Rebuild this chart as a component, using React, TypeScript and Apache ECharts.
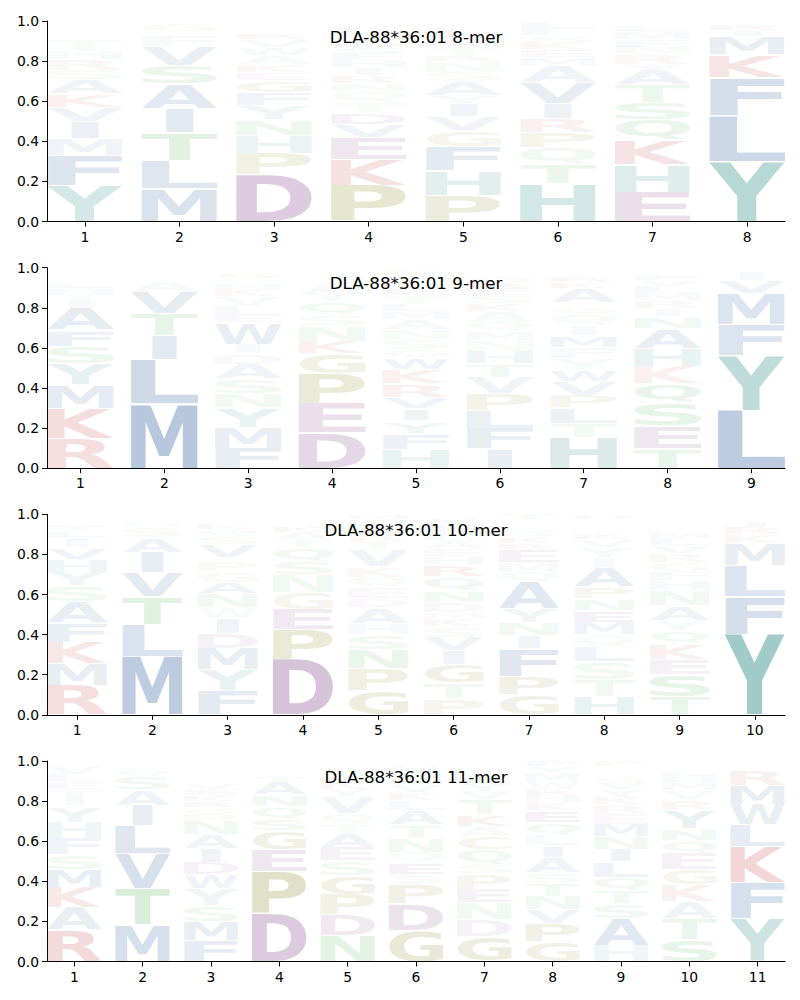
import React, { useEffect, useRef } from 'react';
import * as echarts from 'echarts';

type Stack = [string, number][];

const TITLES = ['DLA-88*36:01 8-mer', 'DLA-88*36:01 9-mer', 'DLA-88*36:01 10-mer', 'DLA-88*36:01 11-mer'];

// letter stacks per position, bottom -> top, [letter, frequency]
const MER8: Stack[] = [
  [['Y', .18], ['F', .15], ['M', .085], ['I', .085], ['V', .07], ['K', .065], ['A', .07], ['S', .05], ['R', .055], ['H', .045], ['T', .055], ['E', .025], ['W', .02], ['Q', .02], ['N', .025]],
  [['M', .163], ['L', .14], ['T', .14], ['I', .12], ['A', .125], ['S', .09], ['V', .095], ['F', .055], ['E', .02], ['G', .04], ['Q', .012]],
  [['D', .23], ['P', .108], ['H', .088], ['N', .08], ['Y', .07], ['F', .065], ['G', .062], ['E', .04], ['K', .04], ['A', .045], ['W', .04], ['V', .04], ['R', .03], ['S', .025], ['Q', .02], ['M', .017]],
  [['P', .18], ['K', .128], ['E', .112], ['V', .066], ['D', .058], ['T', .05], ['Q', .055], ['N', .038], ['R', .04], ['I', .04], ['H', .035], ['F', .035], ['S', .035], ['A', .035], ['Y', .03], ['L', .03], ['M', .02], ['G', .018]],
  [['P', .13], ['H', .125], ['F', .12], ['G', .078], ['V', .072], ['I', .062], ['Y', .04], ['A', .07], ['S', .05], ['N', .05], ['R', .03], ['T', .04], ['M', .04], ['W', .03], ['L', .03], ['E', .02], ['K', .018]],
  [['H', .19], ['T', .095], ['Q', .085], ['P', .075], ['R', .07], ['I', .075], ['V', .1], ['A', .085], ['M', .045], ['E', .035], ['K', .035], ['S', .035], ['F', .035], ['L', .03]],
  [['E', .146], ['H', .137], ['K', .124], ['Q', .1], ['S', .085], ['T', .088], ['A', .075], ['Y', .03], ['R', .05], ['N', .035], ['F', .035], ['M', .04], ['L', .03], ['V', .025]],
  [['Y', .3], ['L', .228], ['F', .19], ['K', .112], ['M', .09], ['I', .03], ['R', .03], ['W', .015]],
];

const MER9: Stack[] = [
  [['R', .147], ['K', .15], ['M', .118], ['Y', .105], ['S', .088], ['F', .08], ['A', .11], ['I', .035], ['T', .035], ['H', .03], ['L', .03], ['E', .025], ['V', .025], ['N', .02]],
  [['M', .32], ['L', .22], ['I', .12], ['T', .11], ['V', .11], ['A', .05], ['Q', .025], ['S', .025], ['F', .015]],
  [['F', .1], ['M', .105], ['Y', .097], ['N', .072], ['S', .07], ['A', .075], ['D', .052], ['I', .048], ['W', .105], ['E', .035], ['L', .05], ['V', .045], ['K', .035], ['H', .03], ['R', .025], ['G', .03], ['T', .025]],
  [['D', .177], ['E', .145], ['P', .148], ['G', .1], ['K', .062], ['N', .08], ['S', .052], ['Q', .065], ['T', .035], ['A', .05], ['H', .025], ['R', .025], ['M', .02], ['F', .015]],
  [['H', .095], ['F', .08], ['Y', .06], ['I', .06], ['V', .06], ['R', .065], ['K', .07], ['W', .06], ['G', .04], ['S', .05], ['N', .05], ['A', .05], ['M', .04], ['L', .04], ['T', .04], ['E', .035], ['Q', .03], ['D', .025], ['P', .02], ['C', .03]],
  [['I', .097], ['F', .1], ['L', .09], ['P', .086], ['V', .08], ['T', .067], ['H', .062], ['N', .055], ['M', .045], ['Q', .05], ['A', .05], ['K', .04], ['S', .04], ['E', .035], ['R', .03], ['G', .03], ['Y', .025], ['D', .02]],
  [['H', .152], ['T', .072], ['L', .075], ['P', .065], ['V', .07], ['W', .057], ['Y', .055], ['F', .055], ['M', .06], ['I', .053], ['Q', .055], ['G', .03], ['S', .025], ['A', .07], ['K', .03], ['R', .03], ['E', .025], ['N', .02]],
  [['T', .1], ['E', .11], ['S', .115], ['Q', .095], ['K', .087], ['H', .09], ['A', .1], ['N', .06], ['I', .04], ['R', .04], ['M', .035], ['L', .035], ['V', .03], ['F', .03], ['G', .02], ['Y', .02]],
  [['L', .29], ['Y', .27], ['F', .155], ['M', .155], ['V', .065], ['I', .045], ['W', .015]],
];

const MER10: Stack[] = [
  [['R', .147], ['M', .108], ['K', .107], ['F', .094], ['A', .105], ['S', .082], ['Y', .068], ['H', .065], ['V', .057], ['I', .05], ['L', .03], ['T', .03], ['E', .025], ['N', .02]],
  [['M', .29], ['L', .16], ['T', .14], ['V', .12], ['I', .1], ['A', .072], ['S', .05], ['Q', .03], ['G', .02], ['F', .015]],
  [['F', .12], ['Y', .105], ['M', .107], ['D', .075], ['I', .077], ['W', .05], ['N', .068], ['A', .057], ['G', .053], ['P', .05], ['E', .02], ['V', .065], ['S', .04], ['Q', .035], ['K', .03], ['H', .025], ['R', .02]],
  [['D', .275], ['P', .15], ['E', .1], ['G', .085], ['N', .087], ['S', .065], ['Q', .07], ['T', .04], ['A', .035], ['K', .03], ['H', .025], ['R', .02], ['F', .015]],
  [['G', .12], ['P', .11], ['N', .095], ['S', .075], ['H', .055], ['A', .08], ['D', .045], ['E', .055], ['Q', .05], ['K', .052], ['V', .085], ['T', .04], ['R', .03], ['L', .03], ['Y', .03], ['I', .02], ['M', .028]],
  [['P', .08], ['T', .08], ['G', .09], ['I', .07], ['V', .067], ['S', .055], ['K', .04], ['M', .03], ['D', .048], ['N', .06], ['Q', .07], ['R', .06], ['H', .04], ['E', .04], ['A', .04], ['L', .04], ['F', .04], ['Y', .03], ['W', .02]],
  [['G', .1], ['P', .09], ['F', .138], ['I', .065], ['N', .065], ['Y', .068], ['A', .135], ['Q', .05], ['M', .05], ['E', .065], ['R', .03], ['K', .03], ['S', .03], ['L', .02], ['V', .02], ['D', .015], ['T', .029]],
  [['H', .09], ['T', .087], ['S', .088], ['L', .078], ['Q', .055], ['M', .063], ['E', .058], ['N', .06], ['P', .058], ['A', .095], ['I', .05], ['Y', .05], ['V', .04], ['K', .03], ['R', .025], ['F', .025], ['G', .02], ['D', .028]],
  [['T', .09], ['S', .11], ['E', .077], ['K', .08], ['Q', .065], ['Y', .05], ['A', .07], ['N', .077], ['H', .05], ['F', .045], ['G', .045], ['R', .045], ['V', .04], ['L', .035], ['M', .03], ['I', .025], ['D', .02], ['P', .025], ['W', .02]],
  [['Y', .4], ['F', .19], ['L', .155], ['M', .107], ['K', .045], ['R', .035], ['I', .03], ['W', .02], ['V', .015]],
];

const MER11: Stack[] = [
  [['R', .155], ['A', .115], ['K', .1], ['M', .09], ['S', .075], ['F', .08], ['H', .08], ['Y', .08], ['I', .04], ['T', .04], ['E', .04], ['L', .035], ['V', .035], ['N', .025]],
  [['M', .183], ['T', .18], ['V', .175], ['L', .14], ['I', .1], ['A', .08], ['S', .065], ['Q', .035], ['G', .025], ['E', .015]],
  [['F', .105], ['M', .095], ['S', .078], ['Y', .085], ['W', .07], ['D', .062], ['I', .068], ['A', .068], ['N', .068], ['P', .035], ['G', .035], ['R', .03], ['K', .03], ['E', .03], ['V', .03], ['H', .025], ['L', .025], ['T', .025], ['Q', .02], ['C', .016]],
  [['D', .24], ['P', .21], ['E', .11], ['G', .09], ['S', .06], ['Q', .06], ['N', .06], ['A', .062], ['T', .03], ['K', .025], ['R', .02], ['H', .02], ['V', .015]],
  [['N', .13], ['D', .102], ['P', .103], ['G', .092], ['S', .075], ['E', .067], ['A', .068], ['T', .047], ['Q', .055], ['V', .085], ['Y', .035], ['K', .035], ['R', .03], ['H', .025], ['L', .025], ['I', .02]],
  [['G', .155], ['D', .13], ['P', .1], ['S', .05], ['E', .06], ['Q', .05], ['N', .07], ['T', .065], ['A', .07], ['L', .05], ['K', .04], ['V', .04], ['R', .03], ['H', .03], ['Y', .03], ['F', .025]],
  [['G', .122], ['D', .085], ['N', .085], ['E', .068], ['P', .077], ['S', .045], ['Q', .075], ['C', .065], ['A', .05], ['K', .058], ['T', .075], ['V', .045], ['Y', .035], ['R', .03], ['L', .025], ['H', .02], ['F', .015], ['M', .025]],
  [['G', .1], ['P', .09], ['V', .068], ['N', .068], ['T', .062], ['S', .052], ['A', .078], ['I', .058], ['L', .055], ['Q', .06], ['E', .06], ['K', .04], ['H', .035], ['R', .03], ['W', .035], ['M', .05], ['Y', .03], ['F', .03]],
  [['H', .08], ['A', .135], ['S', .075], ['T', .063], ['Q', .067], ['L', .078], ['I', .062], ['N', .062], ['M', .063], ['E', .055], ['R', .04], ['K', .04], ['Y', .035], ['V', .035], ['G', .03], ['F', .025], ['D', .025], ['P', .03]],
  [['S', .108], ['T', .105], ['A', .085], ['K', .085], ['G', .077], ['E', .08], ['Q', .065], ['N', .06], ['Y', .09], ['R', .05], ['V', .045], ['M', .04], ['H', .03], ['L', .03], ['F', .025], ['I', .02]],
  [['Y', .215], ['F', .18], ['K', .178], ['L', .11], ['W', .1], ['M', .095], ['R', .075], ['I', .02], ['V', .02]],
];

const PANELS: Stack[][] = [MER8, MER9, MER10, MER11];

const COLOR_GROUPS: [string, number[]][] = [
  ['YH', [20, 125, 120]],
  ['AVLIMFW', [30, 80, 150]],
  ['DE', [110, 35, 115]],
  ['PGC', [115, 115, 0]],
  ['KR', [185, 25, 25]],
  ['STNQ', [40, 160, 50]],
];

const LETTER_FONT = 'bold 100px "DejaVu Sans"';
const GAP = 0.6;

function letterColor(ch: string, a: number): string {
  let c = [80, 80, 80];
  for (const [g, col] of COLOR_GROUPS) if (g.includes(ch)) c = col;
  return `rgba(${c[0]},${c[1]},${c[2]},${Math.min(1, a).toFixed(3)})`;
}

type Metric = { left: number; right: number; top: number; bottom: number };

function measure(): { m: Record<string, Metric>; c: number; eW: number } {
  const canvas = document.createElement('canvas');
  const ctx = canvas.getContext('2d')!;
  ctx.font = LETTER_FONT;
  ctx.textBaseline = 'alphabetic';
  ctx.textAlign = 'left';
  const m: Record<string, Metric> = {};
  let fa = 92.8, fd = 23.6;
  for (const ch of 'ACDEFGHIKLMNPQRSTVWY') {
    const t = ctx.measureText(ch);
    m[ch] = {
      left: -t.actualBoundingBoxLeft,
      right: t.actualBoundingBoxRight,
      top: -t.actualBoundingBoxAscent,
      bottom: t.actualBoundingBoxDescent,
    };
    if (t.fontBoundingBoxAscent) { fa = t.fontBoundingBoxAscent; fd = t.fontBoundingBoxDescent; }
  }
  const c = (fa - fd) / 2;
  const eW = m['E'].right - m['E'].left;
  return { m, c, eW };
}

export default function App() {
  const ref = useRef<HTMLDivElement>(null);
  useEffect(() => {
    if (!ref.current) return;
    const chart = echarts.init(ref.current, null, { renderer: 'svg', width: 800, height: 1000 });
    const { m, c, eW } = measure();

    const tops = [21, 267.7, 514.3, 761];
    const H = 200.5;
    const grids: any[] = [];
    const xAxes: any[] = [];
    const yAxes: any[] = [];
    const series: any[] = [];
    const graphics: any[] = [];

    PANELS.forEach((panel, pi) => {
      const n = panel.length;
      grids.push({ left: 47, right: 15, top: tops[pi], height: H });
      const positions = panel.map((_, i) => i + 1);
      xAxes.push({
        gridIndex: pi, type: 'value', min: 0.6, max: n + 0.4,
        splitLine: { show: false },
        axisLine: { show: true, lineStyle: { color: '#000', width: 1 } },
        axisTick: { show: true, customValues: positions, length: 5, lineStyle: { color: '#000', width: 1 } },
        axisLabel: { show: true, customValues: positions, margin: 8, color: '#000', fontSize: 13.9, fontFamily: 'DejaVu Sans', formatter: (v: number) => String(Math.round(v)) },
      });
      yAxes.push({
        gridIndex: pi, type: 'value', min: 0, max: 1, interval: 0.2,
        splitLine: { show: false },
        axisLine: { show: true, lineStyle: { color: '#000', width: 1 } },
        axisTick: { show: true, length: 5, lineStyle: { color: '#000', width: 1 } },
        axisLabel: { show: true, margin: 8, color: '#000', fontSize: 13.9, fontFamily: 'DejaVu Sans', formatter: (v: number) => v.toFixed(1) },
      });
      const items: { ch: string; h: number }[] = [];
      const data: number[][] = [];
      panel.forEach((stack, i) => {
        let y = 0;
        for (const [ch, h] of stack) {
          items.push({ ch, h });
          data.push([i + 1, y, y + h]);
          y += h;
        }
      });
      series.push({
        type: 'custom', xAxisIndex: pi, yAxisIndex: pi, clip: false, silent: true,
        data,
        renderItem: (params: any, api: any) => {
          const it = items[params.dataIndex];
          const pos = api.value(0), y0 = api.value(1), y1 = api.value(2);
          const p0 = api.coord([pos - 0.4, y1]);
          const p1 = api.coord([pos + 0.4, y0]);
          const X0 = p0[0], X1 = p1[0];
          const Yt = p0[1] + GAP, Yb = p1[1] - GAP;
          if (Yb - Yt < 0.2) return null;
          const mm = m[it.ch];
          const inkW = mm.right - mm.left;
          const sx = (X1 - X0) / Math.max(inkW, eW);
          const sy = (Yb - Yt) / (mm.bottom - mm.top);
          const cx = (X0 + X1) / 2;
          const x = cx - sx * (mm.left + mm.right) / 2;
          const y = Yt - sy * (mm.top + c);
          return {
            type: 'text', x, y, scaleX: sx, scaleY: sy,
            style: { text: it.ch, font: LETTER_FONT, fill: letterColor(it.ch, it.h), align: 'left', verticalAlign: 'middle' },
          };
        },
      });
      graphics.push({
        type: 'text', x: 416, y: tops[pi] + 15.5,
        style: { text: TITLES[pi], fontSize: 16.7, fontFamily: 'DejaVu Sans', fill: '#000', align: 'center', verticalAlign: 'middle' },
        z: 100,
      });
    });

    chart.setOption({
      animation: false,
      backgroundColor: '#fff',
      grid: grids,
      xAxis: xAxes,
      yAxis: yAxes,
      series,
      graphic: graphics,
    });
    return () => chart.dispose();
  }, []);
  return <div ref={ref} style={{ position: 'absolute', left: 0, top: 0, width: 800, height: 1000 }} />;
}
